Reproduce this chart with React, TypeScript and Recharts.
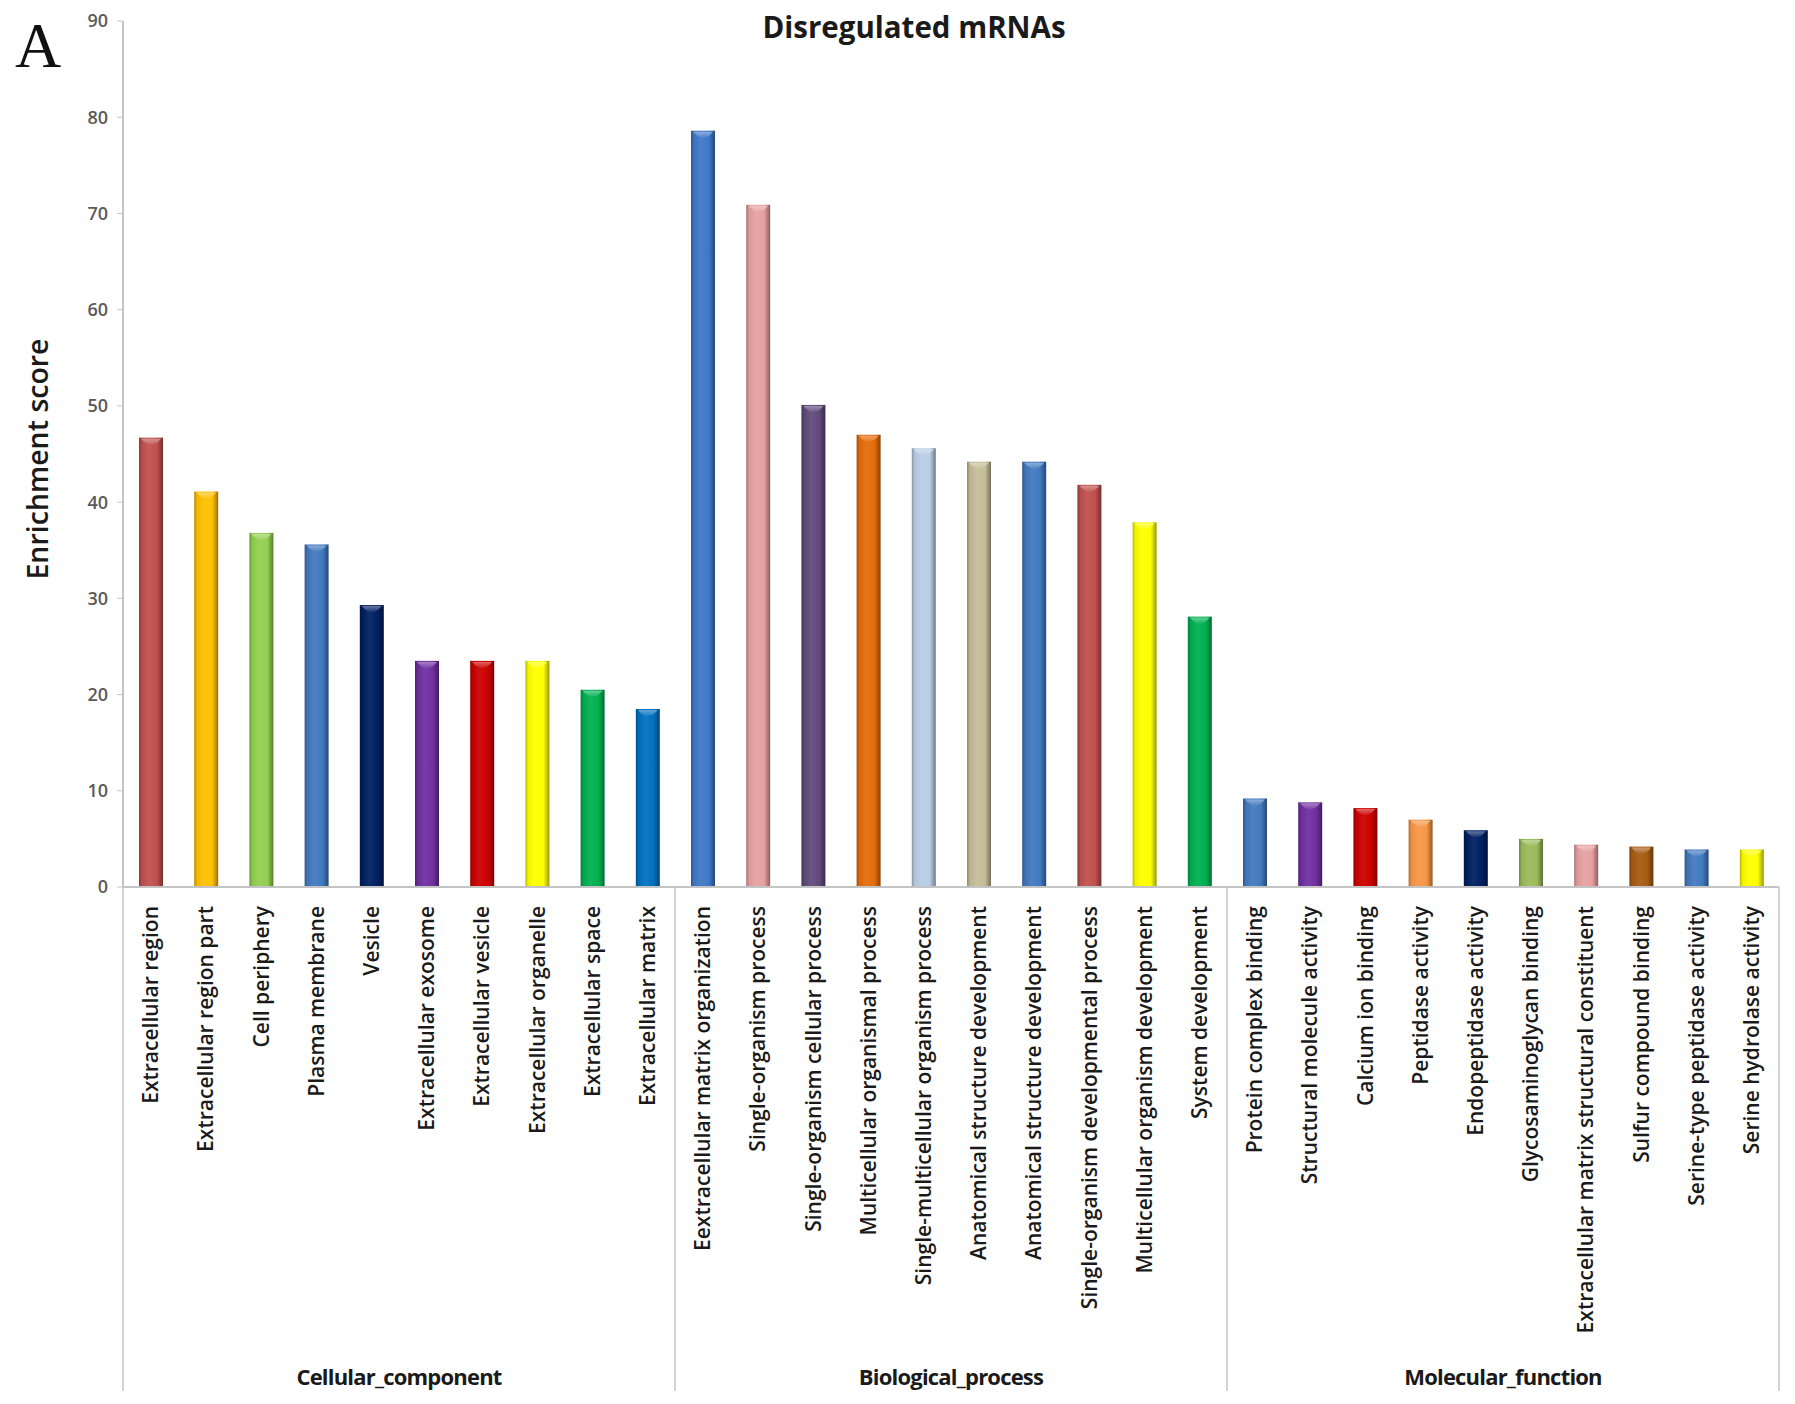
import React from "react";
import { Bar, BarChart, Cell, XAxis, YAxis } from "recharts";

const GROUPS = ["Cellular_component", "Biological_process", "Molecular_function"];

const CC_TERMS = [
  "Extracellular region",
  "Extracellular region part",
  "Cell periphery",
  "Plasma membrane",
  "Vesicle",
  "Extracellular exosome",
  "Extracellular vesicle",
  "Extracellular organelle",
  "Extracellular space",
  "Extracellular matrix",
];
const BP_TERMS = [
  "Eextracellular matrix organization",
  "Single-organism process",
  "Single-organism cellular process",
  "Multicellular organismal process",
  "Single-multicellular organism process",
  "Anatomical structure development",
  "Anatomical structure development",
  "Single-organism developmental process",
  "Multicellular organism development",
  "System development",
];
const MF_TERMS = [
  "Protein complex binding",
  "Structural molecule activity",
  "Calcium ion binding",
  "Peptidase activity",
  "Endopeptidase activity",
  "Glycosaminoglycan binding",
  "Extracellular matrix structural constituent",
  "Sulfur compound binding",
  "Serine-type peptidase activity",
  "Serine hydrolase activity",
];

const CC_SCORES = [46.7, 41.1, 36.8, 35.6, 29.3, 23.5, 23.5, 23.5, 20.5, 18.5];
const BP_SCORES = [78.6, 70.9, 50.1, 47.0, 45.6, 44.2, 44.2, 41.8, 37.9, 28.1];
const MF_SCORES = [9.2, 8.8, 8.2, 7.0, 5.9, 5.0, 4.4, 4.2, 3.9, 3.9];

const CC_COLORS = ["#C0504D", "#FFC000", "#92D050", "#4279BF", "#002060", "#7030A0", "#CC0000", "#FFFF00", "#00B050", "#0070C0"];
const BP_COLORS = ["#3F78C6", "#E6A0A0", "#604A7B", "#E46C0A", "#B9CDE5", "#C4BD97", "#4279BF", "#C0504D", "#FFFF00", "#00B050"];
const MF_COLORS = ["#4279BF", "#7030A0", "#CC0000", "#F79646", "#002060", "#9BBB59", "#E6A0A0", "#A65B12", "#4279BF", "#FFFF00"];

const Y_TICKS = [0, 10, 20, 30, 40, 50, 60, 70, 80, 90];

const TERMS = [...CC_TERMS, ...BP_TERMS, ...MF_TERMS];
const SCORES = [...CC_SCORES, ...BP_SCORES, ...MF_SCORES];
const COLORS = [...CC_COLORS, ...BP_COLORS, ...MF_COLORS];
const GROUP_SIZE = CC_TERMS.length;

const data = TERMS.map((term, i) => ({ key: `${i}`, term, score: SCORES[i] }));

const W = 1780;
const H = 1390;
const AXIS = "#C4C4C4";
const FONT = "'Open Sans', 'DejaVu Sans', sans-serif";
const BOTTOM = 1383;

function shade(hex: string, f: number) {
  const n = parseInt(hex.slice(1), 16);
  const ch = [(n >> 16) & 255, (n >> 8) & 255, n & 255].map((c) =>
    f >= 1 ? Math.round(c + (255 - c) * (f - 1)) : Math.round(c * f)
  );
  return `rgb(${ch[0]},${ch[1]},${ch[2]})`;
}

function CylinderBar(props: any) {
  const { x, y, width, height, index } = props;
  if (!height || height <= 0) return null;
  const c = COLORS[index];
  const id = `cyl-${index}`;
  const capId = `cap-${index}`;
  return (
    <g>
      <defs>
        <linearGradient id={id} x1="0" y1="0" x2="1" y2="0">
          <stop offset="0" stopColor={shade(c, 0.72)} />
          <stop offset="0.12" stopColor={shade(c, 0.95)} />
          <stop offset="0.4" stopColor={shade(c, 1.06)} />
          <stop offset="0.75" stopColor={c} />
          <stop offset="1" stopColor={shade(c, 0.6)} />
        </linearGradient>
        <linearGradient id={capId} x1="0" y1="0" x2="0" y2="1">
          <stop offset="0" stopColor={shade(c, 1.45)} />
          <stop offset="1" stopColor={shade(c, 1.1)} />
        </linearGradient>
      </defs>
      <rect x={x} y={y} width={width} height={height} fill={`url(#${id})`} />
      <path
        d={`M${x + 2},${y + 1} L${x + width - 2},${y + 1} Q${x + width / 2},${y + 13} ${x + 2},${y + 1} Z`}
        fill={`url(#${capId})`}
        opacity={0.85}
      />
    </g>
  );
}

function CategoryTick(props: any) {
  const { x, y, payload, index } = props;
  const half = payload && payload.offset ? payload.offset : 27.6;
  const pos = index % GROUP_SIZE;
  return (
    <g>
      <text
        transform={`translate(${x},${y + 19}) rotate(-90)`}
        textAnchor="end"
        dy="0.36em"
        fontFamily={FONT}
        fontWeight={600}
        fontSize={21}
        fill="#1a1a1a"
      >
        {payload.value}
      </text>
      {pos === 0 && (
        <line x1={x - half} y1={y} x2={x - half} y2={BOTTOM} stroke={AXIS} strokeWidth={1.5} />
      )}
      {index === TERMS.length - 1 && (
        <line x1={x + half} y1={y} x2={x + half} y2={BOTTOM} stroke={AXIS} strokeWidth={1.5} />
      )}
      {pos === GROUP_SIZE / 2 - 1 && (
        <text
          x={x + half}
          y={1368}
          textAnchor="middle"
          dominantBaseline="central"
          fontFamily={FONT}
          fontWeight={700}
          fontSize={22}
          letterSpacing={-0.8}
          fill="#1a1a1a"
        >
          {GROUPS[Math.floor(index / GROUP_SIZE)]}
        </text>
      )}
    </g>
  );
}

export default function App() {
  return (
    <div style={{ position: "relative", width: W, height: H, background: "#fff" }}>
      <BarChart
        width={W}
        height={H}
        data={data}
        margin={{ top: 13, right: 9, bottom: 0, left: 0 }}
        barCategoryGap={0}
      >
        <XAxis
          dataKey="key"
          type="category"
          height={H - 13 - 866}
          interval={0}
          tickLine={false}
          tickSize={0}
          tickMargin={0}
          axisLine={{ stroke: AXIS, strokeWidth: 2 }}
          tick={(p: any) => <CategoryTick {...p} payload={{ ...p.payload, value: TERMS[Number(p.payload.value)] }} />}
        />
        <YAxis
          width={115}
          domain={[0, 90]}
          ticks={Y_TICKS}
          interval={0}
          allowDataOverflow
          axisLine={{ stroke: AXIS, strokeWidth: 2 }}
          tickLine={{ stroke: AXIS }}
          tickSize={6}
          tickMargin={9}
          tick={{ fill: "#5a5a5a", fontSize: 18, fontFamily: FONT, fontWeight: 600 }}
        />
        <Bar dataKey="score" barSize={24} isAnimationActive={false} shape={CylinderBar}>
          {data.map((d, i) => (
            <Cell key={d.key} fill={COLORS[i]} />
          ))}
        </Bar>
      </BarChart>
      <div
        style={{
          position: "absolute",
          left: 906,
          top: 18,
          transform: "translate(-50%, -50%)",
          fontFamily: FONT,
          fontWeight: 700,
          fontSize: 29.5,
          color: "#1a1a1a",
          whiteSpace: "nowrap",
        }}
      >
        Disregulated mRNAs
      </div>
      <div
        style={{
          position: "absolute",
          left: 30,
          top: 38,
          transform: "translate(-50%, -50%)",
          fontFamily: "'Liberation Serif', 'DejaVu Serif', serif",
          fontSize: 64,
          lineHeight: 1,
          color: "#111",
        }}
      >
        A
      </div>
      <div
        style={{
          position: "absolute",
          left: 29,
          top: 451,
          transform: "translate(-50%, -50%) rotate(-90deg)",
          fontFamily: FONT,
          fontWeight: 600,
          fontSize: 28.5,
          color: "#1a1a1a",
          whiteSpace: "nowrap",
        }}
      >
        Enrichment score
      </div>
    </div>
  );
}
